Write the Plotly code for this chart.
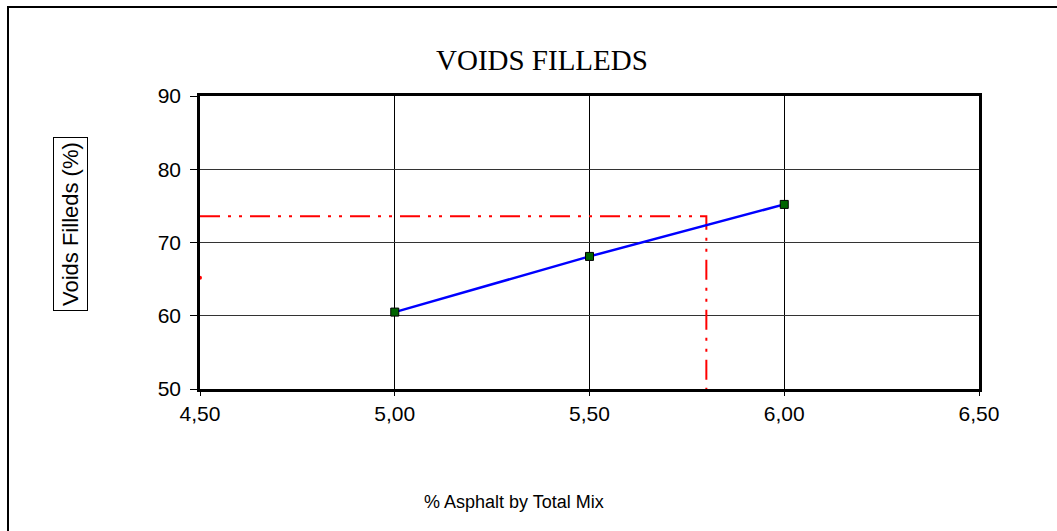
import plotly.graph_objects as go

# Measured mix data
asphalt_pct = [5.00, 5.50, 6.00]
voids_filled = [60.5, 68.1, 75.2]

# Design read-off at the selected asphalt content
design_asphalt = 5.80
design_vfa = 73.6
side_point_y = 65.2

x_ticks = [4.50, 5.00, 5.50, 6.00, 6.50]
x_tick_text = ["4,50", "5,00", "5,50", "6,00", "6,50"]
y_ticks = [50, 60, 70, 80, 90]

W, H = 1057, 531
L, R, T, B = 200, 78, 96, 142
pw, ph = W - L - R, H - T - B


def px(x):
    return (x - L) / pw


def py(y):
    return (H - B - y) / ph


fig = go.Figure()

# Design guide lines (dash-dot-dot)
fig.add_trace(go.Scatter(
    x=[x_ticks[0], design_asphalt, design_asphalt],
    y=[design_vfa, design_vfa, y_ticks[0]],
    mode="lines",
    line=dict(color="#ff0000", width=2, dash="20px,8px,3px,8px,3px,8px"),
    hoverinfo="skip", showlegend=False, cliponaxis=False,
))
fig.add_trace(go.Scatter(
    x=[x_ticks[0]], y=[side_point_y], mode="markers",
    marker=dict(color="#ff0000", size=4, symbol="circle"),
    showlegend=False, cliponaxis=False,
))

# VFA curve
fig.add_trace(go.Scatter(
    x=asphalt_pct, y=voids_filled, mode="lines+markers",
    line=dict(color="#0000ff", width=2.5),
    marker=dict(symbol="square", size=8, color="#006400",
                line=dict(color="#000000", width=1)),
    showlegend=False,
))

tick_font = dict(family="Liberation Sans, Arial", size=21, color="#000000")

fig.update_xaxes(
    range=[4.5, 6.5], tickvals=x_ticks, ticktext=x_tick_text,
    showgrid=True, gridcolor="#000000", gridwidth=1,
    showline=True, linecolor="#000000", linewidth=2.5, mirror=True,
    ticks="outside", ticklen=4, tickcolor="#000000", tickwidth=1,
    tickfont=tick_font, zeroline=False, fixedrange=True,
)
fig.update_yaxes(
    range=[50, 90], tickvals=y_ticks,
    showgrid=True, gridcolor="#333333", gridwidth=1,
    showline=True, linecolor="#000000", linewidth=2.5, mirror=True,
    ticks="outside", ticklen=7, tickcolor="#000000", tickwidth=1,
    ticklabelstandoff=5,
    tickfont=tick_font, zeroline=False, fixedrange=True,
)

fig.update_layout(
    width=W, height=H,
    margin=dict(l=L, r=R, t=T, b=B),
    paper_bgcolor="#ffffff", plot_bgcolor="#ffffff",
    shapes=[
        # chart frame
        dict(type="rect", xref="paper", yref="paper",
             x0=px(8), x1=px(1062), y0=py(540), y1=py(7),
             line=dict(color="#000000", width=2), fillcolor="rgba(0,0,0,0)",
             layer="below"),
    ],
    annotations=[
        dict(text="VOIDS FILLEDS", xref="paper", yref="paper",
             x=px(542), y=py(60), showarrow=False,
             xanchor="center", yanchor="middle",
             font=dict(family="Liberation Serif, Times New Roman", size=29,
                       color="#000000")),
        dict(text="Voids Filleds (%)", xref="paper", yref="paper",
             x=px(70), y=py(224), showarrow=False, textangle=-90,
             xanchor="center", yanchor="middle",
             bordercolor="#000000", borderwidth=1, borderpad=4,
             font=dict(family="Liberation Sans, Arial", size=22,
                       color="#000000")),
        dict(text="% Asphalt by Total Mix", xref="paper", yref="paper",
             x=px(514), y=py(502), showarrow=False,
             xanchor="center", yanchor="middle",
             font=dict(family="Liberation Sans, Arial", size=18,
                       color="#000000")),
    ],
)

fig.write_html("out.html")
